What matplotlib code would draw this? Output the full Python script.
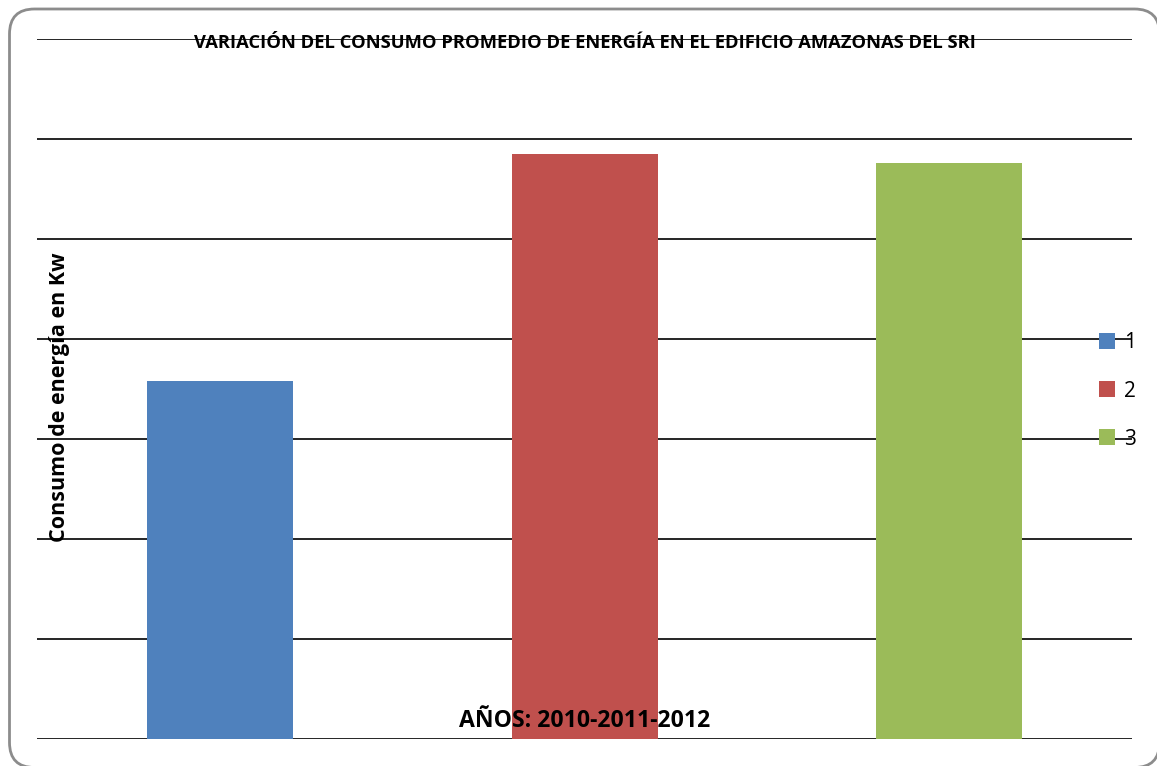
import matplotlib
matplotlib.use("Agg")
import matplotlib.pyplot as plt
from matplotlib.patches import FancyBboxPatch, Patch

categories = ["1", "2", "3"]
values = [3.58, 5.85, 5.76]
colors = ["#4F81BD", "#C0504D", "#9BBB59"]
title = "VARIACIÓN DEL CONSUMO PROMEDIO DE ENERGÍA EN EL EDIFICIO AMAZONAS DEL SRI"
ylabel = "Consumo de energía en Kw"
xlabel = "AÑOS: 2010-2011-2012"

W, H = 1157, 766
fig = plt.figure(figsize=(W / 100, H / 100), dpi=100)
fig.patch.set_facecolor("white")

# rounded frame, defined in inches (100 px per inch)
frame = FancyBboxPatch((0.095, -0.015), 11.5, 7.585,
                       boxstyle="round,pad=0,rounding_size=0.25",
                       transform=fig.dpi_scale_trans, facecolor="white",
                       edgecolor="#8c8c8c", linewidth=2, zorder=-10)
fig.patches.append(frame)

ax = fig.add_axes([37 / W, 1 - 739 / H, (1132 - 37) / W, (739 - 39) / H])
ax.set_zorder(2)
ax.set_facecolor("none")
x = [1, 2, 3]
ax.bar(x, values, width=0.4, color=colors, zorder=3)
ax.set_xlim(0.5, 3.5)
ax.set_ylim(0, 7)
ax.set_yticks(range(0, 8))
ax.yaxis.grid(True, color="black", linewidth=1.2, zorder=1)
ax.set_axisbelow(True)
ax.tick_params(left=False, bottom=False, labelleft=False, labelbottom=False)
for s in ax.spines.values():
    s.set_visible(False)

ax.text(585 / W, 1 - 43 / H, title, transform=fig.transFigure, ha="center",
        va="center", fontsize=13.2, fontweight="bold", family="Open Sans",
        zorder=5)
ax.text(60 / W, 1 - 397 / H, ylabel, transform=fig.transFigure, ha="center",
        va="center", rotation=90, fontsize=15.5, fontweight="bold",
        family="Open Sans", zorder=5)
ax.text(585 / W, 1 - 721 / H, xlabel, transform=fig.transFigure, ha="center",
        va="center", fontsize=16.6, fontweight="bold", family="Open Sans",
        zorder=5)

handles = [Patch(facecolor=c, edgecolor="none") for c in colors]
leg = fig.legend(handles, categories, loc="center left",
                 bbox_to_anchor=(1080 / W, 1 - 391 / H), frameon=False,
                 handlelength=0.8, handleheight=0.8, handletextpad=0.4,
                 labelspacing=1.3, prop={"family": "Open Sans", "size": 15})
leg.set_zorder(6)
plt.savefig("out.png", dpi=100)
